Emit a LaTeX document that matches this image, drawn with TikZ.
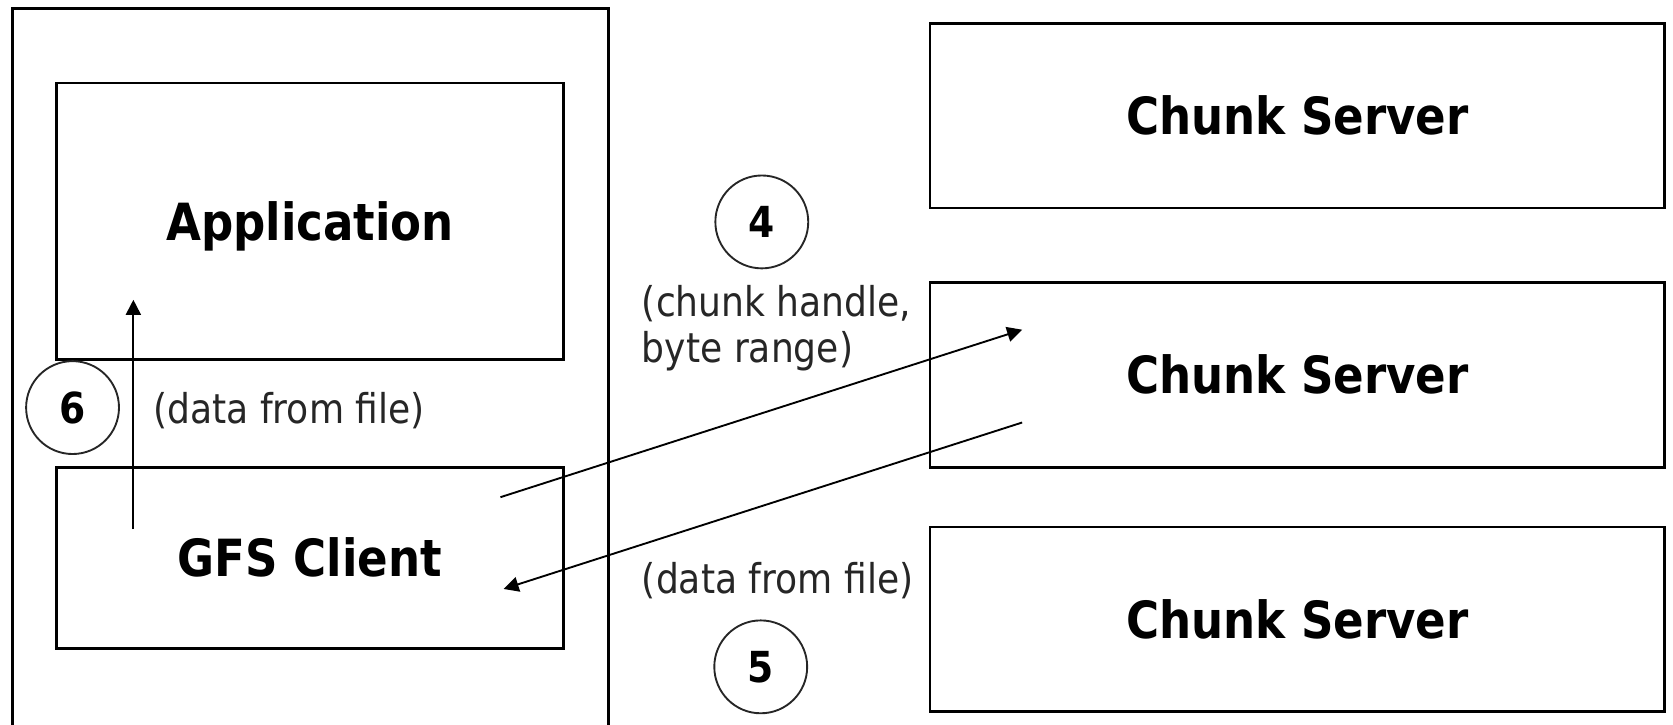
\documentclass[tikz,border=0pt]{standalone}
\usepackage{fontspec}
\setmainfont{DejaVu Sans}[FakeStretch=0.88]
\usetikzlibrary{arrows.meta}
\newcommand\titlefont{\fontsize{13.66}{16}\selectfont\bfseries}
\newcommand\numfont{\fontsize{11.4}{13}\selectfont\bfseries}
\newcommand\notefont{\fontsize{10.93}{12.2}\selectfont}
\tikzset{
  box/.style={draw, line width=0.7pt, inner sep=0pt, font=\titlefont,
    text height=0.35cm, text depth=0pt},
  stepnum/.style={draw=black!85, line width=0.5pt, circle, minimum size=0.87cm,
    inner sep=0pt, font=\numfont, text height=0.29cm, text depth=0pt},
  note/.style={font=\notefont, inner sep=0pt, text=black!85},
  flow/.style={line width=0.5pt, -{Triangle[length=4pt,width=4pt]}},
}
\begin{document}
\begin{tikzpicture}[x=0.01cm, y=-0.01cm]
  \useasboundingbox (0,0) rectangle (1568,679);
  \clip (0,0) rectangle (1568,679);

  % client machine: application and GFS client library
  \node[box, minimum width=5.58cm, minimum height=7.0cm] (host) at (291,358) {};
  \node[box, minimum width=4.75cm, minimum height=2.59cm] (app) at (290.5,207.5) {Application};
  \node[box, minimum width=4.75cm, minimum height=1.70cm] (client) at (290.5,523) {GFS Client};

  % chunk servers
  \node[box, minimum width=6.88cm, minimum height=1.73cm] (cs1) at (1216,108.5) {Chunk Server};
  \node[box, minimum width=6.88cm, minimum height=1.73cm] (cs2) at (1216,351.5) {Chunk Server};
  \node[box, minimum width=6.88cm, minimum height=1.73cm] (cs3) at (1216,580.5) {Chunk Server};

  % step numbers
  \node[stepnum] (s4) at (714,208) {4};
  \node[stepnum] (s5) at (713,625) {5};
  \node[stepnum] (s6) at (68,382) {6};

  % message labels (base of a two-line label is its last line)
  \node[note, anchor=base west] (l6) at (143,397) {(data from file)};
  \node[note, anchor=base west, align=left] (l4) at (601,340) {(chunk handle,\\byte range)};
  \node[note, anchor=base west] (l5) at (601,556) {(data from file)};

  % arrow end points inside the boxes
  \coordinate (up-from) at (125,496);
  \coordinate (up-to)   at (125,281);
  \coordinate (req-from) at (469,466);
  \coordinate (req-to)   at (958,309);
  \coordinate (rep-from) at (958,396);
  \coordinate (rep-to)   at (472,552);

  \draw[flow] (up-from) -- (up-to);
  \draw[flow] (req-from) -- (req-to);
  \draw[flow] (rep-from) -- (rep-to);
\end{tikzpicture}
\end{document}
